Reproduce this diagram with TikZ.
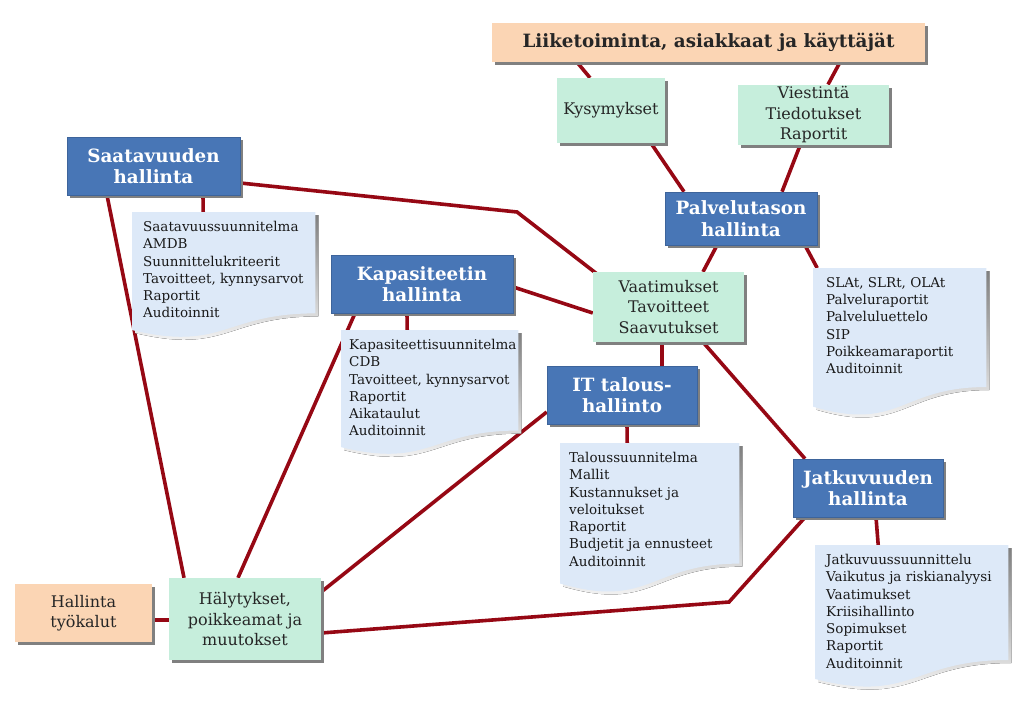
\documentclass[tikz,border=0pt]{standalone}
\usepackage{fontspec}
\setmainfont{DejaVu Serif}
\usetikzlibrary{calc,shadows}

\definecolor{headblue}{RGB}{72,118,182}
\definecolor{reqgreen}{RGB}{198,238,220}
\definecolor{extpeach}{RGB}{251,213,180}
\definecolor{paperblue}{RGB}{221,233,248}
\definecolor{linkred}{RGB}{150,8,20}
\definecolor{shade}{RGB}{128,128,128}

\pgfdeclarelayer{lines}
\pgfdeclarelayer{paper}
\pgfsetlayers{lines,paper,main}

% text block of a document sheet: height, width, lines
\newcommand{\docpage}[3]{\parbox[t][#1pt][t]{#2pt}{\raggedright #3}}
% sheet with wavy lower edge behind a doc node
\newcommand{\paper}[1]{%
  \begin{scope}[transform canvas={xshift=3pt,yshift=-3pt}]
    \fill[shade] (#1.north west) -- (#1.north east)
      -- ($(#1.north east)!0.802!(#1.south east)$)
      .. controls ($(#1.north)!0.802!(#1.south)$) and ($(#1.north)!1.107!(#1.south)$)
      .. ($(#1.north west)!0.934!(#1.south west)$) -- cycle;
  \end{scope}
  \fill[paperblue] (#1.north west) -- (#1.north east)
    -- ($(#1.north east)!0.802!(#1.south east)$)
    .. controls ($(#1.north)!0.802!(#1.south)$) and ($(#1.north)!1.107!(#1.south)$)
    .. ($(#1.north west)!0.934!(#1.south west)$) -- cycle;
}

\begin{document}
\begin{tikzpicture}[x=1pt, y=-1pt,
  box/.style={rectangle, inner sep=2pt, align=center,
    drop shadow={shadow xshift=3pt, shadow yshift=-3pt, fill=shade, opacity=1}},
  head/.style={box, fill=headblue, draw=headblue!85!black, line width=0.6pt, text=white,
    font=\fontsize{18.3}{21.5}\selectfont\bfseries},
  req/.style={box, fill=reqgreen, text=black!85, font=\fontsize{16}{20.5}\selectfont},
  ext/.style={box, fill=extpeach, text=black!85, font=\fontsize{16}{20.5}\selectfont},
  doc/.style={anchor=north west, inner xsep=11pt, inner ysep=9pt, text=black!90,
    font=\fontsize{13.5}{17.3}\selectfont},
  link/.style={draw=linkred, line width=3.6pt}]
  \useasboundingbox (0,0) rectangle (1024,714);

  \node[ext, minimum width=433, minimum height=39, font=\fontsize{18.3}{21.5}\selectfont\bfseries] (biz) at (708.5,42.5) {Liiketoiminta, asiakkaat ja käyttäjät};
  \node[req, minimum width=108, minimum height=65] (kys) at (611,110.5) {Kysymykset};
  \node[req, minimum width=151, minimum height=60] (viest) at (813.5,115) {Viestintä\\Tiedotukset\\Raportit};
  \node[head, minimum width=152, minimum height=53] (palv) at (741,218.5) {Palvelutason\\hallinta};
  \node[req, minimum width=151, minimum height=70] (vaat) at (668.5,307) {Vaatimukset\\Tavoitteet\\Saavutukset};
  \node[head, minimum width=173, minimum height=58] (saat) at (153.5,166) {Saatavuuden\\hallinta};
  \node[head, minimum width=182, minimum height=58] (kap) at (422,284) {Kapasiteetin\\hallinta};
  \node[head, minimum width=150, minimum height=58] (it) at (622,395) {IT talous-\\hallinto};
  \node[head, minimum width=150, minimum height=58] (jatk) at (868,488) {Jatkuvuuden\\hallinta};
  \node[ext, minimum width=137, minimum height=58] (hall) at (83.5,613) {Hallinta\\työkalut};
  \node[req, minimum width=152, minimum height=82] (haly) at (245,619) {Hälytykset,\\poikkeamat ja\\muutokset};

  \node[doc] (saatd) at (132,212) {\docpage{108}{161}{Saatavuussuunnitelma\\AMDB\\Suunnittelukriteerit\\Tavoitteet, kynnysarvot\\Raportit\\Auditoinnit}};
  \node[doc, inner xsep=8pt] (kapd) at (341,330) {\docpage{107}{161}{Kapasiteettisuunnitelma\\CDB\\Tavoitteet, kynnysarvot\\Raportit\\Aikataulut\\Auditoinnit}};
  \node[doc, inner xsep=13pt] (palvd) at (813,268) {\docpage{130}{147}{SLAt, SLRt, OLAt\\Palveluraportit\\Palveluluettelo\\SIP\\Poikkeamaraportit\\Auditoinnit}};
  \node[doc, inner xsep=9pt] (itd) at (560,443) {\docpage{132}{161}{Taloussuunnitelma\\Mallit\\Kustannukset ja\\veloitukset\\Raportit\\Budjetit ja ennusteet\\Auditoinnit}};
  \node[doc, inner xsep=11pt] (jatkd) at (815,545) {\docpage{125}{171}{Jatkuvuussuunnittelu\\Vaikutus ja riskianalyysi\\Vaatimukset\\Kriisihallinto\\Sopimukset\\Raportit\\Auditoinnit}};

  \begin{pgfonlayer}{paper}
    \paper{saatd}
    \paper{kapd}
    \paper{palvd}
    \paper{itd}
    \paper{jatkd}
  \end{pgfonlayer}

  \begin{pgfonlayer}{lines}
    \draw[link] ([xshift=-131.5]biz.south) -- ([xshift=-21]kys.north);
    \draw[link] ([xshift=40]kys.south) -- ([xshift=-57]palv.north);
    \draw[link] ([xshift=131.5]biz.south) -- ([xshift=14.5]viest.north);
    \draw[link] ([xshift=-13.5]viest.south) -- ([xshift=41]palv.north);
    \draw[link] ([xshift=-24]palv.south) -- ([xshift=34.5]vaat.north);
    \draw[link] ([xshift=64]palv.south) -- ([xshift=-82.5]palvd.north);
    \draw[link] ([xshift=-6.5]vaat.south) -- ([xshift=40]it.north);
    \draw[link] ([xshift=5]it.south) -- ([xshift=-22.5]itd.north);
    \draw[link] ([xshift=34.5]vaat.south) -- ([xshift=-63]jatk.north);
    \draw[link] ([xshift=8]jatk.south) -- ([xshift=-33.5]jatkd.north);
    \draw[link] ([xshift=-63]jatk.south) -- (729,602) -- ([yshift=-14]haly.east);
    \draw[link] ([yshift=-17]saat.east) -- (517,212) -- ([xshift=4,yshift=-2]vaat.north west);
    \draw[link] ([xshift=49.5]saat.south) -- ([xshift=-20.5]saatd.north);
    \draw[link] ([xshift=-46.5]saat.south) -- ([xshift=-61]haly.north);
    \draw[link] ([xshift=-15]kap.south) -- ([xshift=-22.5]kapd.north);
    \draw[link] ([xshift=-67]kap.south) -- ([xshift=-7]haly.north);
    \draw[link] ([yshift=-3]kap.east) -- ([yshift=-6]vaat.west);
    \draw[link] ([yshift=-17]it.west) -- ([yshift=27]haly.east);
    \draw[link] ([yshift=-7]hall.east) -- ([yshift=-1]haly.west);
  \end{pgfonlayer}
\end{tikzpicture}
\end{document}
